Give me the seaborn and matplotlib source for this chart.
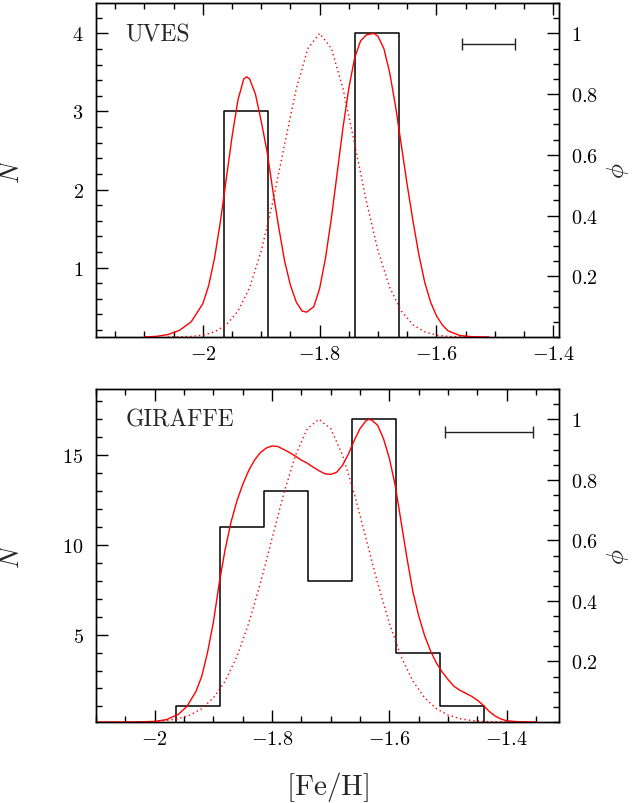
import numpy as np
import pandas as pd
import seaborn as sns
import matplotlib
matplotlib.use("Agg")
import matplotlib.pyplot as plt
from matplotlib.ticker import MultipleLocator, FixedLocator, FuncFormatter

# ---- data ----
bin_edges = [-2.039, -1.964, -1.889, -1.814, -1.739, -1.664, -1.589,
             -1.514, -1.439, -1.364]
uves_counts = [0, 3, 0, 0, 4, 0, 0, 0, 0]
giraffe_counts = [0, 1, 11, 13, 8, 17, 4, 1, 0]

uves_x = [-2.10, -2.08, -2.06, -2.04, -2.02, -2.00, -1.99, -1.98, -1.97,
          -1.96, -1.95, -1.94, -1.93, -1.925, -1.92, -1.91, -1.90, -1.89,
          -1.88, -1.87, -1.86, -1.85, -1.84, -1.83, -1.822, -1.81, -1.80,
          -1.79, -1.78, -1.77, -1.76, -1.75, -1.74, -1.73, -1.72, -1.707,
          -1.70, -1.69, -1.68, -1.67, -1.66, -1.65, -1.64, -1.63, -1.62,
          -1.61, -1.60, -1.59, -1.58, -1.56, -1.54, -1.51]
uves_phi = [0.000, 0.002, 0.008, 0.022, 0.050, 0.110, 0.170, 0.260, 0.380,
            0.520, 0.660, 0.780, 0.850, 0.857, 0.850, 0.800, 0.710, 0.610,
            0.480, 0.360, 0.250, 0.170, 0.115, 0.085, 0.082, 0.100, 0.160,
            0.260, 0.390, 0.540, 0.690, 0.820, 0.920, 0.975, 0.995, 1.000,
            0.990, 0.950, 0.870, 0.760, 0.630, 0.500, 0.380, 0.270, 0.180,
            0.115, 0.070, 0.040, 0.020, 0.005, 0.001, 0.000]

uves_gx = [-2.06, -2.04, -2.02, -2.00, -1.98, -1.96, -1.94, -1.92, -1.90,
           -1.88, -1.86, -1.84, -1.82, -1.80, -1.78, -1.76, -1.74, -1.72,
           -1.70, -1.68, -1.66, -1.64, -1.62, -1.60, -1.58, -1.56, -1.54]
uves_gphi = [0.000, 0.001, 0.002, 0.006, 0.017, 0.040, 0.085, 0.163, 0.284,
             0.447, 0.635, 0.818, 0.951, 1.000, 0.951, 0.818, 0.635, 0.447,
             0.284, 0.163, 0.085, 0.040, 0.017, 0.006, 0.002, 0.001, 0.000]

gir_x = [-2.10, -2.04, -2.00, -1.98, -1.96, -1.945, -1.93, -1.92, -1.91,
         -1.90, -1.89, -1.88, -1.87, -1.86, -1.85, -1.84, -1.83, -1.82,
         -1.81, -1.80, -1.79, -1.78, -1.77, -1.76, -1.75, -1.74, -1.73,
         -1.72, -1.71, -1.70, -1.69, -1.68, -1.67, -1.66, -1.65, -1.64,
         -1.635, -1.63, -1.62, -1.61, -1.60, -1.59, -1.58, -1.57, -1.56,
         -1.55, -1.54, -1.53, -1.52, -1.51, -1.50, -1.49, -1.48, -1.47,
         -1.46, -1.45, -1.44, -1.43, -1.42, -1.41, -1.40, -1.38, -1.35]
gir_phi = [0.000, 0.000, 0.002, 0.008, 0.025, 0.052, 0.100, 0.150, 0.230,
           0.330, 0.460, 0.570, 0.660, 0.730, 0.785, 0.830, 0.865, 0.890,
           0.905, 0.912, 0.910, 0.900, 0.890, 0.878, 0.865, 0.855, 0.842,
           0.830, 0.820, 0.818, 0.825, 0.848, 0.885, 0.930, 0.970, 0.995,
           1.000, 0.997, 0.980, 0.935, 0.870, 0.780, 0.660, 0.540, 0.430,
           0.350, 0.285, 0.235, 0.195, 0.165, 0.140, 0.118, 0.105, 0.095,
           0.085, 0.072, 0.055, 0.035, 0.020, 0.010, 0.004, 0.001, 0.000]

gir_gx = [-2.10, -2.06, -2.02, -2.00, -1.98, -1.96, -1.94, -1.92, -1.90,
          -1.88, -1.86, -1.84, -1.82, -1.80, -1.78, -1.76, -1.74, -1.72,
          -1.70, -1.68, -1.66, -1.64, -1.62, -1.60, -1.58, -1.56, -1.54,
          -1.52, -1.50, -1.48, -1.46, -1.44, -1.42, -1.40, -1.38]
gir_gphi = [0.000, 0.000, 0.001, 0.002, 0.005, 0.011, 0.023, 0.044, 0.080,
            0.135, 0.216, 0.325, 0.458, 0.607, 0.755, 0.882, 0.969, 1.000,
            0.969, 0.882, 0.755, 0.607, 0.458, 0.325, 0.216, 0.135, 0.080,
            0.044, 0.023, 0.011, 0.005, 0.002, 0.001, 0.000, 0.000]

# error bars (centre, half width, phi level)
uves_err = (-1.511, 0.045, 0.965)
gir_err = (-1.430, 0.075, 0.957)


def set_style():
    sns.set_theme(style="ticks")
    plt.rcParams.update({
        "font.family": ["cmr10", "DejaVu Serif"],
        "mathtext.fontset": "cm",
        "axes.linewidth": 1.0,
        "axes.edgecolor": "black",
        "xtick.direction": "in",
        "ytick.direction": "in",
        "xtick.color": "black",
        "ytick.color": "black",
        "xtick.major.size": 8.5,
        "ytick.major.size": 8.5,
        "xtick.minor.size": 4,
        "ytick.minor.size": 4,
        "xtick.major.width": 1.0,
        "ytick.major.width": 1.0,
        "xtick.minor.width": 1.0,
        "ytick.minor.width": 1.0,
    })


def mfmt(v, pos):
    return f"${round(v, 3):g}$"


def panel(ax, counts, cx, cphi, gx, gphi, err, nlim, nmajor, nminor,
          xlim, name):
    centers = [(a + b) / 2 for a, b in zip(bin_edges[:-1], bin_edges[1:])]
    sns.histplot(x=centers, weights=counts, bins=bin_edges, element="step",
                 fill=False, color="black", linewidth=1.1, ax=ax)
    ax.set_xlim(*xlim)
    ax.set_ylim(*nlim)
    ax.yaxis.set_major_locator(FixedLocator(nmajor))
    ax.yaxis.set_minor_locator(MultipleLocator(nminor))
    ax.xaxis.set_major_locator(MultipleLocator(0.2))
    ax.xaxis.set_minor_locator(MultipleLocator(0.05))
    ax.xaxis.set_major_formatter(FuncFormatter(mfmt))
    ax.yaxis.set_major_formatter(FuncFormatter(mfmt))
    ax.tick_params(axis="both", which="both", top=True, right=False,
                   labelsize=14.5)
    ax.tick_params(axis="x", which="major", pad=6)
    ax.tick_params(axis="y", which="major", pad=9)
    ax.set_ylabel(r"$N$", fontsize=19)
    ax.yaxis.set_label_coords(-0.155, 0.5)
    ax.set_xlabel("")
    ax.text(0.063, 0.874, name, transform=ax.transAxes, fontsize=17,
            family="cmr10", ha="left", va="bottom")

    axr = ax.twinx()
    sns.lineplot(x=cx, y=cphi, color="red", linewidth=1.0, ax=axr)
    sns.lineplot(x=gx, y=gphi, color="red", linewidth=1.0,
                 linestyle=(0, (1, 2.2)), ax=axr)
    axr.errorbar(err[0], err[2], xerr=err[1], color="#222222", lw=1.0,
                 capsize=4.5, capthick=1.0)
    axr.set_ylim(0, 1.1)
    axr.yaxis.set_major_locator(FixedLocator([0.2, 0.4, 0.6, 0.8, 1.0]))
    axr.yaxis.set_minor_locator(MultipleLocator(0.05))
    axr.yaxis.set_major_formatter(FuncFormatter(mfmt))
    axr.tick_params(axis="y", which="both", labelsize=14.5)
    axr.tick_params(axis="y", which="major", pad=8.5)
    axr.set_ylabel(r"$\phi$", fontsize=18)
    axr.yaxis.set_label_coords(1.1, 0.5)
    axr.set_xlim(*xlim)
    return axr


def main():
    set_style()
    fig = plt.figure(figsize=(6.36, 8.04), dpi=100)
    ax1 = fig.add_axes([0.151, 0.5796, 0.728, 0.4154])
    ax2 = fig.add_axes([0.151, 0.1007, 0.728, 0.4142])

    panel(ax1, uves_counts, uves_x, uves_phi, uves_gx, uves_gphi, uves_err,
          (0.11, 4.39), [1, 2, 3, 4], 0.2, (-2.183, -1.39), "UVES")
    panel(ax2, giraffe_counts, gir_x, gir_phi, gir_gx, gir_gphi, gir_err,
          (0.13, 18.68), [5, 10, 15], 1, (-2.10, -1.311), "GIRAFFE")

    ax2.set_xlabel(r"$[\mathrm{Fe/H}]$", fontsize=21)
    ax2.xaxis.set_label_coords(0.5, -0.14)

    fig.savefig("out.png", dpi=100)
    plt.close(fig)


if __name__ == "__main__":
    main()
